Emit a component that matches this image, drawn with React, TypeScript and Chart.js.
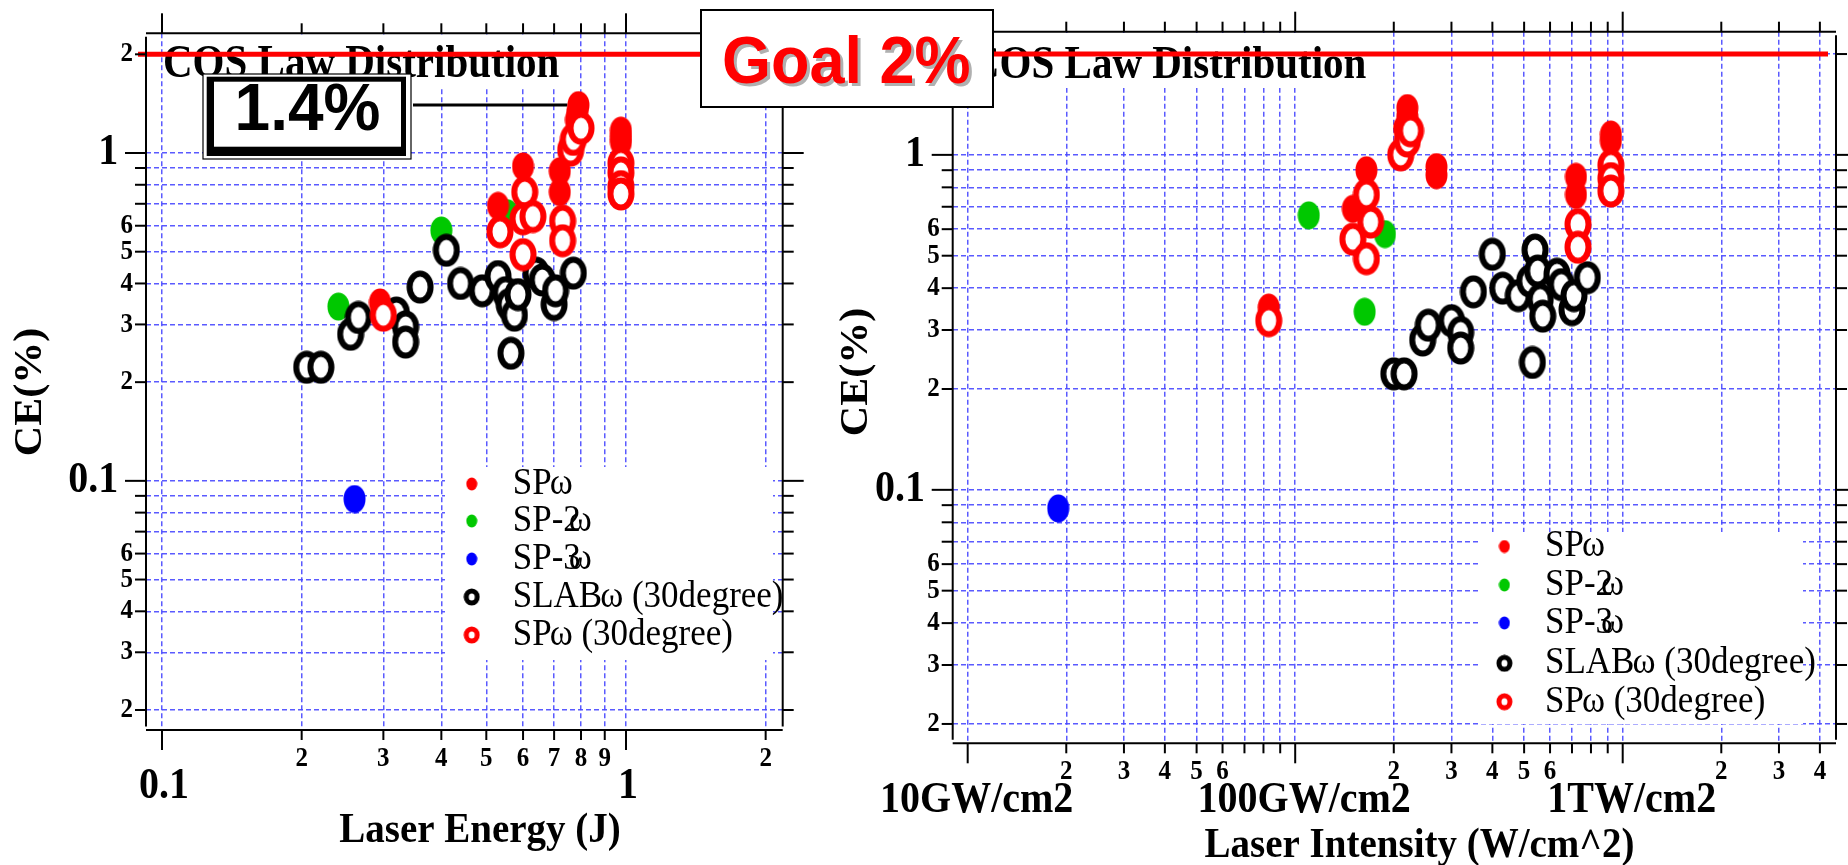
import React, { useEffect, useRef } from 'react';
import { Chart, registerables } from 'chart.js';

Chart.register(...registerables);

const SERIF = '"Liberation Serif", "Times New Roman", serif';
const SANS = '"Liberation Sans", Arial, sans-serif';
const GRID = 'rgba(72, 72, 255, 0.9)';
const RED = '#ff0000';
const GREEN = '#00c800';
const BLUE = '#0000ff';

// ---- shared CE (%) axis ticks
const ceTicks = [0.02, 0.03, 0.04, 0.05, 0.06, 0.07, 0.08, 0.09, 0.1, 0.2, 0.3, 0.4, 0.5, 0.6, 0.7, 0.8, 0.9, 1, 2];
const ceLabelValues = [2, 1, 0.6, 0.5, 0.4, 0.3, 0.2, 0.1, 0.06, 0.05, 0.04, 0.03, 0.02];
const ceLabelTexts = ['2', '1', '6', '5', '4', '3', '2', '0.1', '6', '5', '4', '3', '2'];
const ceMajor = [1, 0.1];

// ---- laser energy axis (J)
const energyTicks = [0.1, 0.2, 0.3, 0.4, 0.5, 0.6, 0.7, 0.8, 0.9, 1, 2];
const energyLabelValues = [0.1, 0.2, 0.3, 0.4, 0.5, 0.6, 0.7, 0.8, 0.9, 1, 2];
const energyLabelTexts = ['0.1', '2', '3', '4', '5', '6', '7', '8', '9', '1', '2'];
const energyMajor = [0.1, 1];

// ---- laser intensity axis (W/cm^2)
const intensityTicks = [
  1e10, 2e10, 3e10, 4e10, 5e10, 6e10, 7e10, 8e10, 9e10,
  1e11, 2e11, 3e11, 4e11, 5e11, 6e11, 7e11, 8e11, 9e11,
  1e12, 2e12, 3e12, 4e12,
];
const intensityLabelValues = [1e10, 2e10, 3e10, 4e10, 5e10, 6e10, 1e11, 2e11, 3e11, 4e11, 5e11, 6e11, 1e12, 2e12, 3e12, 4e12];
const intensityLabelTexts = ['10GW/cm2', '2', '3', '4', '5', '6', '100GW/cm2', '2', '3', '4', '5', '6', '1TW/cm2', '2', '3', '4'];
const intensityMajor = [1e10, 1e11, 1e12];

const legendTexts = ['SPω', 'SP-2ω', 'SP-3ω', 'SLABω (30degree)', 'SPω (30degree)'];
const goalCE = 2;
const peakCE = 1.4;

// ---- CE vs laser energy
const eSpW = [0.295, 0.53, 0.6, 0.72, 0.72, 0.79, 0.785, 0.78, 0.975, 0.975, 0.975];
const ceESpW = [0.35, 0.69, 0.91, 0.88, 0.76, 1.4, 1.33, 1.26, 1.17, 1.12, 1.08];
const eSp2W = [0.24, 0.4, 0.555];
const ceESp2W = [0.34, 0.58, 0.655];
const eSp3W = [0.26];
const ceESp3W = [0.088];
const eSlab = [0.205, 0.22, 0.255, 0.265, 0.32, 0.335, 0.335, 0.36, 0.41, 0.44, 0.49, 0.53, 0.55, 0.56, 0.575, 0.565, 0.585, 0.64, 0.66, 0.7, 0.705, 0.77];
const ceESlab = [0.222, 0.222, 0.28, 0.315, 0.325, 0.295, 0.265, 0.39, 0.505, 0.4, 0.38, 0.42, 0.375, 0.345, 0.32, 0.245, 0.37, 0.43, 0.41, 0.345, 0.38, 0.43];
const eSp30 = [0.3, 0.535, 0.605, 0.6, 0.63, 0.6, 0.73, 0.73, 0.76, 0.77, 0.8, 0.975, 0.975, 0.975, 0.975];
const ceESp30 = [0.32, 0.575, 0.76, 0.63, 0.64, 0.49, 0.62, 0.54, 1.02, 1.1, 1.19, 0.93, 0.87, 0.79, 0.75];

// ---- CE vs laser intensity
const iSpW = [8.3e10, 1.5e11, 1.65e11, 2.2e11, 2.2e11, 2.15e11, 2.7e11, 2.7e11, 7.2e11, 7.2e11, 9.2e11, 9.2e11];
const ceISpW = [0.35, 0.69, 0.9, 1.38, 1.3, 1.2, 0.92, 0.87, 0.86, 0.76, 1.15, 1.1];
const iSp2W = [1.1e11, 1.63e11, 1.88e11];
const ceISp2W = [0.66, 0.34, 0.58];
const iSp3W = [1.89e10];
const ceISp3W = [0.088];
const iSlab = [2.0e11, 2.15e11, 2.45e11, 2.55e11, 3.0e11, 3.2e11, 3.2e11, 3.5e11, 4.0e11, 4.3e11, 4.8e11, 5.2e11, 5.4e11, 5.5e11, 5.3e11, 5.6e11, 5.7e11, 6.3e11, 6.5e11, 7.0e11, 7.1e11, 7.8e11];
const ceISlab = [0.222, 0.222, 0.28, 0.31, 0.32, 0.295, 0.265, 0.39, 0.505, 0.4, 0.38, 0.42, 0.52, 0.45, 0.24, 0.37, 0.33, 0.44, 0.41, 0.345, 0.38, 0.43];
const iSp30 = [8.3e10, 1.5e11, 1.65e11, 1.7e11, 1.65e11, 2.1e11, 2.2e11, 2.25e11, 7.3e11, 7.3e11, 9.2e11, 9.2e11, 9.2e11];
const ceISp30 = [0.32, 0.56, 0.76, 0.63, 0.49, 1.0, 1.1, 1.18, 0.62, 0.53, 0.93, 0.85, 0.78];

function ellipseMarker(w: number, h: number, fill: string | null, stroke: string | null, lw: number) {
  const c = document.createElement('canvas');
  c.width = w;
  c.height = h;
  const g = c.getContext('2d') as CanvasRenderingContext2D;
  g.beginPath();
  g.ellipse(w / 2, h / 2, w / 2 - lw / 2 - 0.5, h / 2 - lw / 2 - 0.5, 0, 0, Math.PI * 2);
  if (fill) {
    g.fillStyle = fill;
    g.fill();
  }
  if (stroke && lw > 0) {
    g.lineWidth = lw;
    g.strokeStyle = stroke;
    g.stroke();
  }
  return c;
}

type Markers = { big: HTMLCanvasElement[]; small: HTMLCanvasElement[] };

function makeMarkers(): Markers {
  // order: SPω, SP-2ω, SP-3ω, SLABω (30degree), SPω (30degree)
  return {
    big: [
      ellipseMarker(23, 29, RED, null, 0),
      ellipseMarker(23, 29, GREEN, null, 0),
      ellipseMarker(23, 29, BLUE, null, 0),
      ellipseMarker(28, 34, '#ffffff', '#000000', 6),
      ellipseMarker(28, 34, '#ffffff', RED, 6),
    ],
    small: [
      ellipseMarker(12, 14, RED, null, 0),
      ellipseMarker(12, 14, GREEN, null, 0),
      ellipseMarker(12, 14, BLUE, null, 0),
      ellipseMarker(17, 18, '#ffffff', '#000000', 5),
      ellipseMarker(17, 18, '#ffffff', RED, 5),
    ],
  };
}

type PanelCfg = {
  width: number;
  padding: { left: number; right: number; top: number; bottom: number };
  xMin: number;
  xMax: number;
  yMin: number;
  yMax: number;
  xTicks: number[];
  xLabelValues: number[];
  xLabelTexts: string[];
  xMajor: number[];
  majorDx: number;
  majorDy: number;
  xTitle: string;
  xTitleX: number;
  xTitleY: number;
  yTitleX: number;
  yTitleY: number;
  titleX: number;
  titleBaseline: number;
  titleBox: [number, number, number, number];
  legendBox: [number, number, number, number];
  legendMarkerX: number;
  legendTextX: number;
  legendRows: number[];
  redFrom: number;
  redTo: number;
  callout: boolean;
  series: { x: number[]; y: number[] }[];
};

function text(
  ctx: CanvasRenderingContext2D,
  s: string,
  x: number,
  y: number,
  font: string,
  align: CanvasTextAlign,
  baseline: CanvasTextBaseline,
  color = '#000',
  sy = 1,
) {
  ctx.save();
  ctx.translate(x, y);
  ctx.scale(1, sy);
  ctx.font = font;
  ctx.textAlign = align;
  ctx.textBaseline = baseline;
  ctx.fillStyle = color;
  ctx.fillText(s, 0, 0);
  ctx.restore();
}

function legendLabel(ctx: CanvasRenderingContext2D, s: string, x: number, y: number) {
  ctx.save();
  ctx.translate(x, y);
  ctx.scale(1, 1.08);
  ctx.font = `35px ${SERIF}`;
  ctx.fillStyle = '#000';
  ctx.textBaseline = 'middle';
  ctx.textAlign = 'left';
  const k = s.indexOf('ω');
  const pre = s.slice(0, k);
  const post = s.slice(k + 1);
  ctx.fillText(pre, 0, 0);
  let cx = ctx.measureText(pre).width;
  cx -= /\d$/.test(pre) ? 12 : 2;
  ctx.fillText('ω', cx, 0);
  cx += ctx.measureText('ω').width;
  ctx.fillText(post, cx, 0);
  ctx.restore();
}

function decorPlugin(cfg: PanelCfg, markers: Markers) {
  return {
    id: 'decor',
    beforeDatasetsDraw(chart: any) {
      const { ctx } = chart;
      const xs = chart.scales.x;
      const ys = chart.scales.y;
      ctx.save();
      // panel heading on a white plate
      const [tx0, ty0, tx1, ty1] = cfg.titleBox;
      ctx.fillStyle = '#fff';
      ctx.fillRect(tx0, ty0, tx1 - tx0, ty1 - ty0);
      text(ctx, 'COS Law Distribution', cfg.titleX, cfg.titleBaseline, `bold 41px ${SERIF}`, 'left', 'alphabetic', '#000', 1.12);

      if (cfg.callout) {
        // framed 1.4% callout pointing at the best shot
        ctx.fillStyle = '#fff';
        ctx.fillRect(203, 74, 208, 85);
        ctx.strokeStyle = '#000';
        ctx.lineWidth = 1.2;
        ctx.strokeRect(203, 74, 208, 85);
        ctx.fillStyle = '#000';
        ctx.fillRect(206.7, 76.7, 199.3, 79.3);
        ctx.fillStyle = '#fff';
        ctx.fillRect(214, 81.7, 187, 65);
        text(ctx, `${peakCE}%`, 307.5, 130, `bold 64px ${SANS}`, 'center', 'alphabetic', '#000', 1.04);
        const peakIdx = cfg.series[0].y.indexOf(peakCE);
        const py = ys.getPixelForValue(peakCE);
        const px = xs.getPixelForValue(cfg.series[0].x[peakIdx]) - 11;
        ctx.strokeStyle = '#000';
        ctx.lineWidth = 3;
        ctx.beginPath();
        ctx.moveTo(413, py);
        ctx.lineTo(px, py);
        ctx.stroke();
      }

      // legend
      const [lx0, ly0, lx1, ly1] = cfg.legendBox;
      ctx.fillStyle = '#fff';
      ctx.fillRect(lx0, ly0, lx1 - lx0, ly1 - ly0);
      legendTexts.forEach((t, i) => {
        const m = markers.small[i];
        const ry = cfg.legendRows[i];
        ctx.drawImage(m, cfg.legendMarkerX - m.width / 2, ry - m.height / 2);
        legendLabel(ctx, t, cfg.legendTextX, ry);
      });

      // 2% goal line
      const gy = ys.getPixelForValue(goalCE);
      ctx.strokeStyle = RED;
      ctx.lineWidth = 5;
      ctx.beginPath();
      ctx.moveTo(cfg.redFrom, gy);
      ctx.lineTo(cfg.redTo, gy);
      ctx.stroke();
      ctx.restore();
    },
    afterDraw(chart: any) {
      const { ctx, chartArea: a } = chart;
      const xs = chart.scales.x;
      const ys = chart.scales.y;
      ctx.save();
      ctx.strokeStyle = '#000';
      ctx.lineWidth = 2;
      const seg = (x0: number, y0: number, x1: number, y1: number) => {
        ctx.beginPath();
        ctx.moveTo(x0, y0);
        ctx.lineTo(x1, y1);
        ctx.stroke();
      };
      // frame
      seg(a.left, a.top, a.right, a.top);
      seg(a.left, a.bottom, a.right, a.bottom);
      seg(a.left, a.top + 3.5, a.left, a.bottom - 3.5);
      seg(a.right, a.top + 3.5, a.right, a.bottom - 3.5);
      // CE ticks, left and right
      ceTicks.forEach((v) => {
        const py = ys.getPixelForValue(v);
        const len = ceMajor.includes(v) ? 21 : 11;
        seg(a.left - len, py, a.left, py);
        seg(a.right, py, a.right + len, py);
      });
      // x ticks, bottom and top
      cfg.xTicks.forEach((v) => {
        const px = xs.getPixelForValue(v);
        const len = cfg.xMajor.includes(v) ? 20 : 10;
        seg(px, a.bottom, px, a.bottom + len);
        seg(px, a.top, px, a.top - len);
      });
      // CE labels
      ceLabelValues.forEach((v, i) => {
        const py = ys.getPixelForValue(v);
        if (ceMajor.includes(v)) {
          text(ctx, ceLabelTexts[i], a.left - 27.7, py, `bold 40px ${SERIF}`, 'right', 'middle', '#000', 1.1);
        } else {
          text(ctx, ceLabelTexts[i], a.left - 13, py, `bold 25px ${SERIF}`, 'right', 'middle', '#000', 1.1);
        }
      });
      // x labels
      cfg.xLabelValues.forEach((v, i) => {
        const px = xs.getPixelForValue(v);
        if (cfg.xMajor.includes(v)) {
          text(ctx, cfg.xLabelTexts[i], px + cfg.majorDx, a.bottom + cfg.majorDy, `bold 40px ${SERIF}`, 'center', 'alphabetic', '#000', 1.1);
        } else {
          text(ctx, cfg.xLabelTexts[i], px, a.bottom + 35.5, `bold 25px ${SERIF}`, 'center', 'alphabetic', '#000', 1.1);
        }
      });
      // axis titles
      text(ctx, cfg.xTitle, cfg.xTitleX, cfg.xTitleY, `bold 39px ${SERIF}`, 'center', 'alphabetic', '#000', 1.1);
      ctx.save();
      ctx.translate(cfg.yTitleX, cfg.yTitleY);
      ctx.rotate(-Math.PI / 2);
      ctx.scale(1.05, 1);
      ctx.font = `bold 40px ${SERIF}`;
      ctx.textAlign = 'center';
      ctx.textBaseline = 'middle';
      ctx.fillStyle = '#000';
      ctx.fillText('CE(%)', 0, 0);
      ctx.restore();
      ctx.restore();
    },
  };
}

function buildChart(canvas: HTMLCanvasElement, cfg: PanelCfg, markers: Markers) {
  const orders = [1, 3, 4, 2, 0];
  const datasets = cfg.series.map((s, i) => ({
    label: legendTexts[i],
    data: s.x.map((v, j) => ({ x: v, y: s.y[j] })),
    pointStyle: markers.big[i],
    pointRadius: 4,
    showLine: false,
    order: orders[i],
    clip: false as const,
  }));
  const axisCommon = {
    type: 'logarithmic' as const,
    ticks: { display: false },
    grid: { color: GRID, lineWidth: 1.5, drawTicks: false },
    border: { display: false, dash: [5, 3] },
  };
  return new Chart(canvas, {
    type: 'scatter',
    data: { datasets },
    options: {
      animation: false,
      responsive: false,
      events: [],
      layout: { padding: cfg.padding, autoPadding: false },
      plugins: { legend: { display: false }, tooltip: { enabled: false }, title: { display: false } },
      scales: {
        x: {
          ...axisCommon,
          min: cfg.xMin,
          max: cfg.xMax,
          afterBuildTicks: (s: any) => {
            s.ticks = cfg.xTicks.map((v) => ({ value: v }));
          },
        },
        y: {
          ...axisCommon,
          min: cfg.yMin,
          max: cfg.yMax,
          afterBuildTicks: (s: any) => {
            s.ticks = ceTicks.map((v) => ({ value: v }));
          },
        },
      },
    } as any,
    plugins: [decorPlugin(cfg, markers)],
  });
}

const LEFT_W = 830;
const RIGHT_W = 1848 - LEFT_W;

const energyPanel: PanelCfg = {
  width: LEFT_W,
  padding: { left: 146, right: LEFT_W - 782.7, top: 33.3, bottom: 865 - 730 },
  xMin: 0.09237,
  xMax: 2.1765,
  yMin: 0.01738,
  yMax: 2.318,
  xTicks: energyTicks,
  xLabelValues: energyLabelValues,
  xLabelTexts: energyLabelTexts,
  xMajor: energyMajor,
  majorDx: 2,
  majorDy: 67.5,
  xTitle: 'Laser Energy (J)',
  xTitleX: 480,
  xTitleY: 841.7,
  yTitleX: 31,
  yTitleY: 392,
  titleX: 163,
  titleBaseline: 76.7,
  titleBox: [163.5, 34.5, 560, 88],
  legendBox: [445, 467, 773, 660],
  legendMarkerX: 471.7,
  legendTextX: 512.7,
  legendRows: [484, 521, 559, 597, 635],
  redFrom: 138,
  redTo: LEFT_W,
  callout: true,
  series: [
    { x: eSpW, y: ceESpW },
    { x: eSp2W, y: ceESp2W },
    { x: eSp3W, y: ceESp3W },
    { x: eSlab, y: ceESlab },
    { x: eSp30, y: ceESp30 },
  ],
};

const intensityPanel: PanelCfg = {
  width: RIGHT_W,
  padding: { left: 952.7 - LEFT_W, right: 1848 - 1836, top: 31.7, bottom: 865 - 743.3 },
  xMin: 9.0e9,
  xMax: 4.48e12,
  yMin: 0.01751,
  yMax: 2.332,
  xTicks: intensityTicks,
  xLabelValues: intensityLabelValues,
  xLabelTexts: intensityLabelTexts,
  xMajor: intensityMajor,
  majorDx: 9,
  majorDy: 69,
  xTitle: 'Laser Intensity (W/cm^2)',
  xTitleX: 1419.5 - LEFT_W,
  xTitleY: 856.7,
  yTitleX: 857 - LEFT_W,
  yTitleY: 372,
  titleX: 970 - LEFT_W,
  titleBaseline: 77.5,
  titleBox: [970.5 - LEFT_W, 33, 1367 - LEFT_W, 88],
  legendBox: [1478 - LEFT_W, 532, 1803 - LEFT_W, 724],
  legendMarkerX: 1504.4 - LEFT_W,
  legendTextX: 1545 - LEFT_W,
  legendRows: [546.5, 585, 623, 663.3, 701.7],
  redFrom: 0,
  redTo: 1828 - LEFT_W,
  callout: false,
  series: [
    { x: iSpW, y: ceISpW },
    { x: iSp2W, y: ceISp2W },
    { x: iSp3W, y: ceISp3W },
    { x: iSlab, y: ceISlab },
    { x: iSp30, y: ceISp30 },
  ],
};

export default function App() {
  const leftRef = useRef<HTMLCanvasElement | null>(null);
  const rightRef = useRef<HTMLCanvasElement | null>(null);

  useEffect(() => {
    const markers = makeMarkers();
    const charts: Chart[] = [];
    if (leftRef.current) charts.push(buildChart(leftRef.current, energyPanel, markers));
    if (rightRef.current) charts.push(buildChart(rightRef.current, intensityPanel, markers));
    return () => charts.forEach((c) => c.destroy());
  }, []);

  return (
    <div style={{ position: 'fixed', left: 0, top: 0, width: 1848, height: 865, background: '#fff', overflow: 'hidden' }}>
      <canvas
        ref={leftRef}
        width={LEFT_W}
        height={865}
        style={{ position: 'absolute', left: 0, top: 0, width: LEFT_W, height: 865 }}
      />
      <canvas
        ref={rightRef}
        width={RIGHT_W}
        height={865}
        style={{ position: 'absolute', left: LEFT_W, top: 0, width: RIGHT_W, height: 865 }}
      />
      <div
        style={{
          position: 'absolute',
          left: 700,
          top: 9,
          width: 294,
          height: 99,
          boxSizing: 'border-box',
          border: '2px solid #000',
          background: '#fff',
        }}
      >
        <span
          style={{
            position: 'absolute',
            left: 20,
            top: 16,
            font: `bold 63px ${SANS}`,
            lineHeight: '63px',
            color: RED,
            whiteSpace: 'nowrap',
            textShadow: '3px 3px 0 #b0b0b0',
            transform: 'scaleY(1.06)',
            transformOrigin: 'left top',
          }}
        >
          Goal 2%
        </span>
      </div>
    </div>
  );
}
